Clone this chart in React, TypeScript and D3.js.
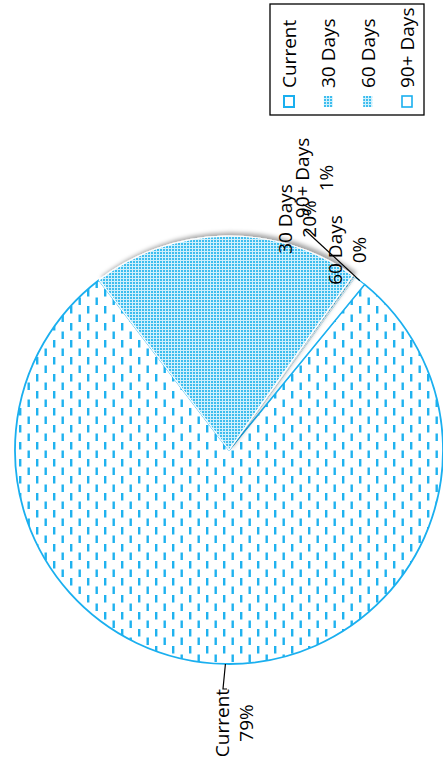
import React from 'react';
import * as d3 from 'd3';

// ---- data ----
const categories = ['Current', '30 Days', '60 Days', '90+ Days'];
const shares = [78.7, 20.2, 0.2, 0.9];
const percentLabels = ['79%', '20%', '0%', '1%'];

// ---- layout ----
const W = 443;
const H = 760;
const CX = 229;
const CY = 450;
const R = 214;
const START_DEG = 39.3;
const BLUE = '#1AAFEF';
const FONT = '"Open Sans", "Noto Sans", sans-serif';
const FS = 19;

const labelPos: Record<string, { x: number; y: number }> = {
  Current: { x: 222, y: 723 },
  '30 Days': { x: 285, y: 219 },
  '60 Days': { x: 335, y: 250 },
  '90+ Days': { x: 302, y: 178 },
};
const leaderTail: Record<string, [number, number][]> = {
  Current: [[223, 689], [227, 689]],
  '90+ Days': [[305, 230]],
};

const fills: Record<string, string> = {
  Current: 'url(#dashPat)',
  '30 Days': 'url(#checkPat)',
  '60 Days': 'url(#checkPat)',
  '90+ Days': '#ffffff',
};
const strokes: Record<string, string> = {
  Current: BLUE,
  '30 Days': '#ffffff',
  '60 Days': '#ffffff',
  '90+ Days': BLUE,
};

export default function App() {
  const data = categories.map((c, i) => ({ cat: c, v: shares[i], lab: percentLabels[i] }));
  const start = (START_DEG * Math.PI) / 180;
  const pie = d3
    .pie<any>()
    .sort(null)
    .value((d) => d.v)
    .startAngle(start)
    .endAngle(start + 2 * Math.PI);
  const arcs = pie(data);
  const arc = d3.arc<any>().innerRadius(0).outerRadius(R);
  const drawOrder = ['Current', '90+ Days', '60 Days', '30 Days'];

  const legendX = d3.scalePoint<string>().domain(categories).range([289, 407]);

  return (
    <svg
      width={W}
      height={H}
      style={{ position: 'absolute', left: 0, top: 0, background: '#fff' }}
      fontFamily={FONT}
    >
      <defs>
        <pattern id="dashPat" patternUnits="userSpaceOnUse" width={17} height={17} x={CX} y={CY}>
          <rect width={17} height={17} fill="#fff" />
          <rect x={3} y={1} width={2.4} height={7.5} fill="#1FB2EF" />
          <rect x={11.5} y={9.5} width={2.4} height={7.5} fill="#1FB2EF" />
        </pattern>
        <pattern id="checkPat" patternUnits="userSpaceOnUse" width={3} height={3}>
          <rect width={3} height={3} fill="#CFF0FC" />
          <rect x={0} y={0} width={2} height={2} fill="#3DBDEE" />
        </pattern>
        <filter id="shadow" x="-20%" y="-20%" width="140%" height="140%">
          <feDropShadow dx={3} dy={-3} stdDeviation={2} floodColor="#000" floodOpacity={0.35} />
        </filter>
      </defs>

      <g transform={`translate(${CX},${CY})`}>
        {drawOrder.map((c) => {
          const a = arcs.find((x) => x.data.cat === c)!;
          return (
            <path
              key={c}
              d={arc(a) as string}
              fill={fills[c]}
              stroke={strokes[c]}
              strokeWidth={c === 'Current' ? 1.8 : 1.2}
              strokeLinejoin="round"
              filter={c === '30 Days' ? 'url(#shadow)' : undefined}
            />
          );
        })}
      </g>

      {/* leader lines */}
      {arcs
        .filter((a) => leaderTail[a.data.cat])
        .map((a) => {
          const mid = (a.startAngle + a.endAngle) / 2;
          const p0: [number, number] = [CX + R * Math.sin(mid), CY - R * Math.cos(mid)];
          const pts = [p0, ...leaderTail[a.data.cat]];
          return (
            <path
              key={'ld' + a.data.cat}
              d={d3.line()(pts) as string}
              fill="none"
              stroke="#000"
              strokeWidth={1.2}
            />
          );
        })}

      {/* data labels */}
      {data.map((d) => {
        const p = labelPos[d.cat];
        return (
          <g key={'lb' + d.cat} transform={`translate(${p.x},${p.y}) rotate(-90)`}>
            <text textAnchor="middle" dominantBaseline="central" fontSize={FS} fill="#000" y={0}>
              {d.cat}
            </text>
            <text textAnchor="middle" dominantBaseline="central" fontSize={FS} fill="#000" y={23.5}>
              {d.lab}
            </text>
          </g>
        );
      })}

      {/* legend */}
      <rect x={270} y={4} width={154} height={111} fill="#fff" stroke="#000" strokeWidth={1.3} />
      {categories.map((c) => {
        const x = legendX(c)!;
        return (
          <g key={'lg' + c}>
            {c === 'Current' && (
              <rect x={x - 5} y={96} width={10} height={11} fill="#fff" stroke={BLUE} strokeWidth={2} />
            )}
            {(c === '30 Days' || c === '60 Days') && (
              <rect x={x - 4.5} y={96} width={9} height={11} fill="url(#checkPat)" />
            )}
            {c === '90+ Days' && (
              <rect x={x - 5} y={96} width={10} height={11} fill="#fff" stroke={BLUE} strokeWidth={1.6} />
            )}
            <text
              transform={`translate(${x},88) rotate(-90)`}
              textAnchor="start"
              dominantBaseline="central"
              fontSize={FS}
              fill="#000"
            >
              {c}
            </text>
          </g>
        );
      })}
    </svg>
  );
}
